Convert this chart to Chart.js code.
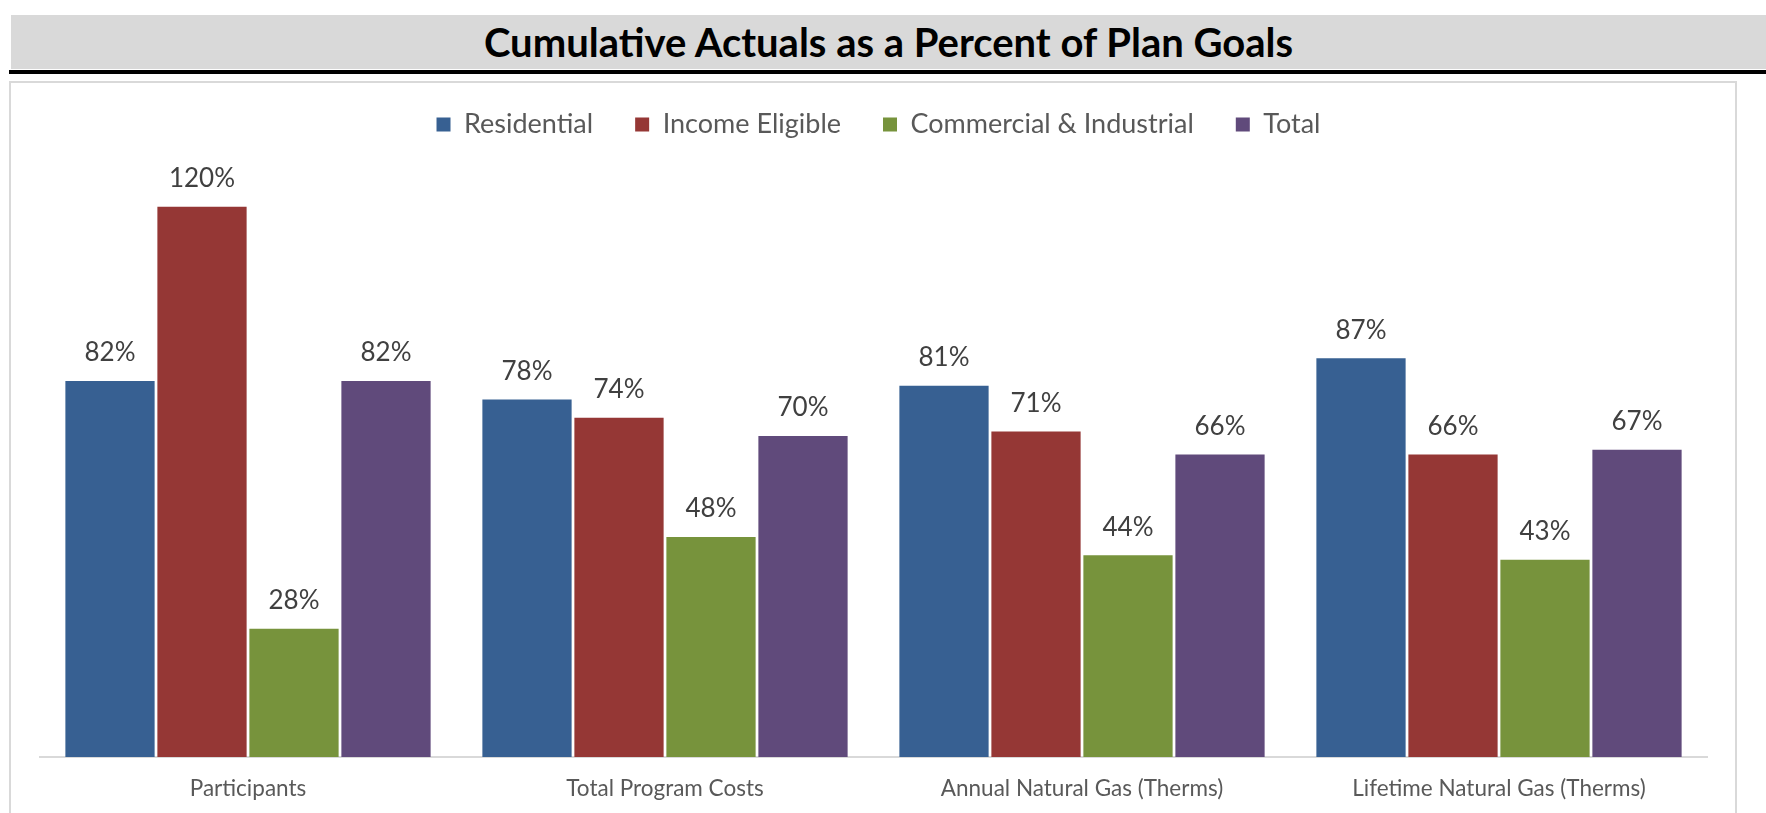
<!DOCTYPE html>
<html>
<head>
<meta charset="utf-8">
<title>Cumulative Actuals as a Percent of Plan Goals</title>
<script src="https://cdn.jsdelivr.net/npm/chart.js@4.4.0/dist/chart.umd.min.js"></script>
<style>
    html, body { margin: 0; padding: 0; background: #fff; overflow: hidden; }
    body { width: 1766px; height: 813px; position: relative; }
    .title {
        position: absolute; left: 11px; top: 15px; width: 1755px; height: 54px;
        background: #d9d9d9; color: #000; text-align: center;
        font: bold 40px Lato, sans-serif; line-height: 54px;
    }
    .rule { position: absolute; left: 9px; top: 70px; width: 1757px; height: 4px; background: #000; }
    .frame {
        position: absolute; left: 9px; top: 81px; width: 1728px; height: 780px;
        border: 2px solid #d9d9d9; box-sizing: border-box;
    }
    #chart { position: absolute; left: 0; top: 69px; }
</style>
</head>
<body>
<div class="title">Cumulative Actuals as a Percent of Plan Goals</div>
<div class="rule"></div>
<div class="frame"></div>
<canvas id="chart" width="1766" height="751"></canvas>
<script>
const categories = ['Participants', 'Total Program Costs', 'Annual Natural Gas (Therms)', 'Lifetime Natural Gas (Therms)'];
const seriesNames = ['Residential', 'Income Eligible', 'Commercial & Industrial', 'Total'];
const residential = [82, 78, 81, 87];
const incomeEligible = [120, 74, 71, 66];
const commercialIndustrial = [28, 48, 44, 43];
const total = [82, 70, 66, 67];

const seriesColors = ['#376092', '#953735', '#77933c', '#604a7b'];
const seriesValues = [residential, incomeEligible, commercialIndustrial, total];

// value labels above each bar, placed from the bar elements
const barLabels = {
    id: 'barLabels',
    afterDatasetsDraw(chart) {
        const ctx = chart.ctx;
        ctx.save();
        ctx.font = '26px Lato, sans-serif';
        ctx.fillStyle = '#404040';
        ctx.textAlign = 'center';
        ctx.textBaseline = 'middle';
        chart.data.datasets.forEach((ds, i) => {
            chart.getDatasetMeta(i).data.forEach((bar, j) => {
                ctx.fillText(ds.data[j] + '%', bar.x, bar.y - 28);
            });
        });
        ctx.restore();
    },
};

// a bit of extra room under the legend, and nudge it right a little
const legendGap = {
    id: 'legendGap',
    beforeInit(chart) {
        const fit = chart.legend.fit;
        chart.legend.fit = function () {
            fit.call(this);
            this.height += 13;
        };
    },
    afterLayout(chart) {
        chart.legend.left += 5;
        chart.legend.right += 5;
    },
};

const ctx = document.getElementById('chart').getContext('2d');
new Chart(ctx, {
    type: 'bar',
    data: {
        labels: categories,
        datasets: seriesNames.map((name, i) => ({
            label: name,
            data: seriesValues[i],
            backgroundColor: seriesColors[i],
            borderWidth: 0,
            barPercentage: 0.97,
            categoryPercentage: 0.8825,
        })),
    },
    options: {
        responsive: false,
        animation: false,
        devicePixelRatio: 1,
        layout: {
            padding: { left: 39.5, right: 58.5, top: 0, bottom: 0 },
        },
        scales: {
            x: {
                grid: { display: false, drawTicks: false },
                border: { display: true, color: '#d9d9d9', width: 2 },
                ticks: {
                    color: '#595959',
                    padding: 18,
                    font: { family: 'Lato, sans-serif', size: 22.5 },
                },
            },
            y: {
                display: false,
                min: 0,
                max: 130,
            },
        },
        plugins: {
            legend: {
                position: 'top',
                labels: {
                    color: '#595959',
                    boxWidth: 14,
                    boxHeight: 14,
                    padding: 42,
                    font: { family: 'Lato, sans-serif', size: 27 },
                },
            },
            tooltip: { enabled: false },
        },
    },
    plugins: [barLabels, legendGap],
});
</script>
</body>
</html>
